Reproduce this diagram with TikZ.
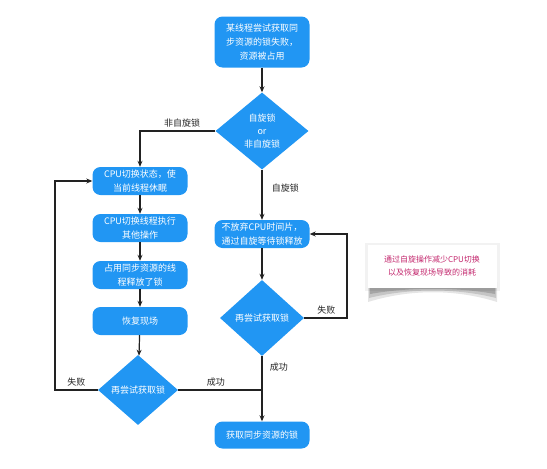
\documentclass[tikz,border=0pt]{standalone}
\usepackage{fontspec}
\setmainfont{Noto Sans CJK SC}
\usetikzlibrary{shapes.geometric,arrows.meta}
\definecolor{flowblue}{RGB}{33,150,243}
\definecolor{notepink}{RGB}{196,40,110}
\definecolor{linegray}{RGB}{34,34,34}

\begin{document}
\begin{tikzpicture}[
  x=1pt, y=-1pt,
  block/.style={rectangle, rounded corners=8pt, fill=flowblue, text=white, minimum width=95pt, minimum height=28pt, inner sep=2pt, align=center, font=\fontsize{9}{14}\selectfont},
  decision/.style={diamond, aspect=1.2, fill=flowblue, text=white, inner sep=0pt, align=center, font=\fontsize{9}{13}\selectfont},
  note/.style={rectangle, fill=white, text=notepink, minimum width=129pt, minimum height=43pt, align=center, font=\fontsize{8}{13}\selectfont},
  line/.style={-{Stealth[length=6pt,width=5pt]}, linegray, line width=1.2pt},
  link/.style={linegray, line width=1.2pt},
  lbl/.style={font=\fontsize{9}{11}\selectfont, text=linegray}
]
\useasboundingbox (0,0) rectangle (547,469);

\node[block, minimum height=51pt] (fail) at (262,42) {某线程尝试获取同\\步资源的锁失败，\\资源被占用};
\node[decision, minimum width=93pt, minimum height=77pt] (kind) at (262,131) {自旋锁\\or\\非自旋锁};

\node[block] (sleep) at (140,181) {CPU切换状态，使\\当前线程休眠};
\node[block] (other) at (140,228) {CPU切换线程执行\\其他操作};
\node[block] (owner) at (140,275) {占用同步资源的线\\程释放了锁};
\node[block] (restore) at (140,321) {恢复现场};
\node[decision, minimum width=80pt, minimum height=70pt] (retryA) at (138,390) {再尝试获取锁};

\node[block] (spin) at (262,234) {不放弃CPU时间片，\\通过自旋等待锁释放};
\node[decision, minimum width=84pt, minimum height=76pt] (retryB) at (262,318) {再尝试获取锁};
\node[block, minimum height=27pt] (got) at (262,435) {获取同步资源的锁};

\coordinate (lback) at (55,390);
\coordinate (rback) at (347,318);
\coordinate (join) at (262,390);

\draw[line] (fail) -- (kind);
\draw[line] (kind.west) -| node[lbl, above, pos=0.22] {非自旋锁} (sleep);
\draw[line] (kind) -- node[lbl, right, pos=0.36, xshift=6pt] {自旋锁} (spin);
\draw[line] (sleep) -- (other);
\draw[line] (other) -- (owner);
\draw[line] (owner) -- (restore);
\draw[line] (restore) -- (retryA);
\draw[line] (retryA.west) -- node[lbl, above, pos=0.5] {失败} (lback) |- (sleep.west);
\draw[link] (retryA.east) -- node[lbl, above, pos=0.45] {成功} (join);
\draw[line] (spin) -- (retryB);
\draw[line] (retryB.east) -- node[lbl, above, pos=0.52] {失败} (rback) |- (spin.east);
\draw[line] (retryB.south) -- node[lbl, right, pos=0.17, xshift=4pt] {成功} (got);

\fill[black, opacity=0.05] (365,243) rectangle (500,291);
\fill[black, opacity=0.10] (368,282) -- (368,302) .. controls (410,289) and (456,289) .. (497,302) -- (497,282) -- cycle;
\fill[black, opacity=0.14] (369,282) -- (369,298) .. controls (410,288) and (456,288) .. (496,298) -- (496,282) -- cycle;
\fill[black, opacity=0.16] (370,282) -- (370,294) .. controls (410,287) and (456,287) .. (495,294) -- (495,282) -- cycle;
\node[note] (hint) at (432,266) {通过自旋操作减少CPU切换\\以及恢复现场导致的消耗};
\end{tikzpicture}
\end{document}
